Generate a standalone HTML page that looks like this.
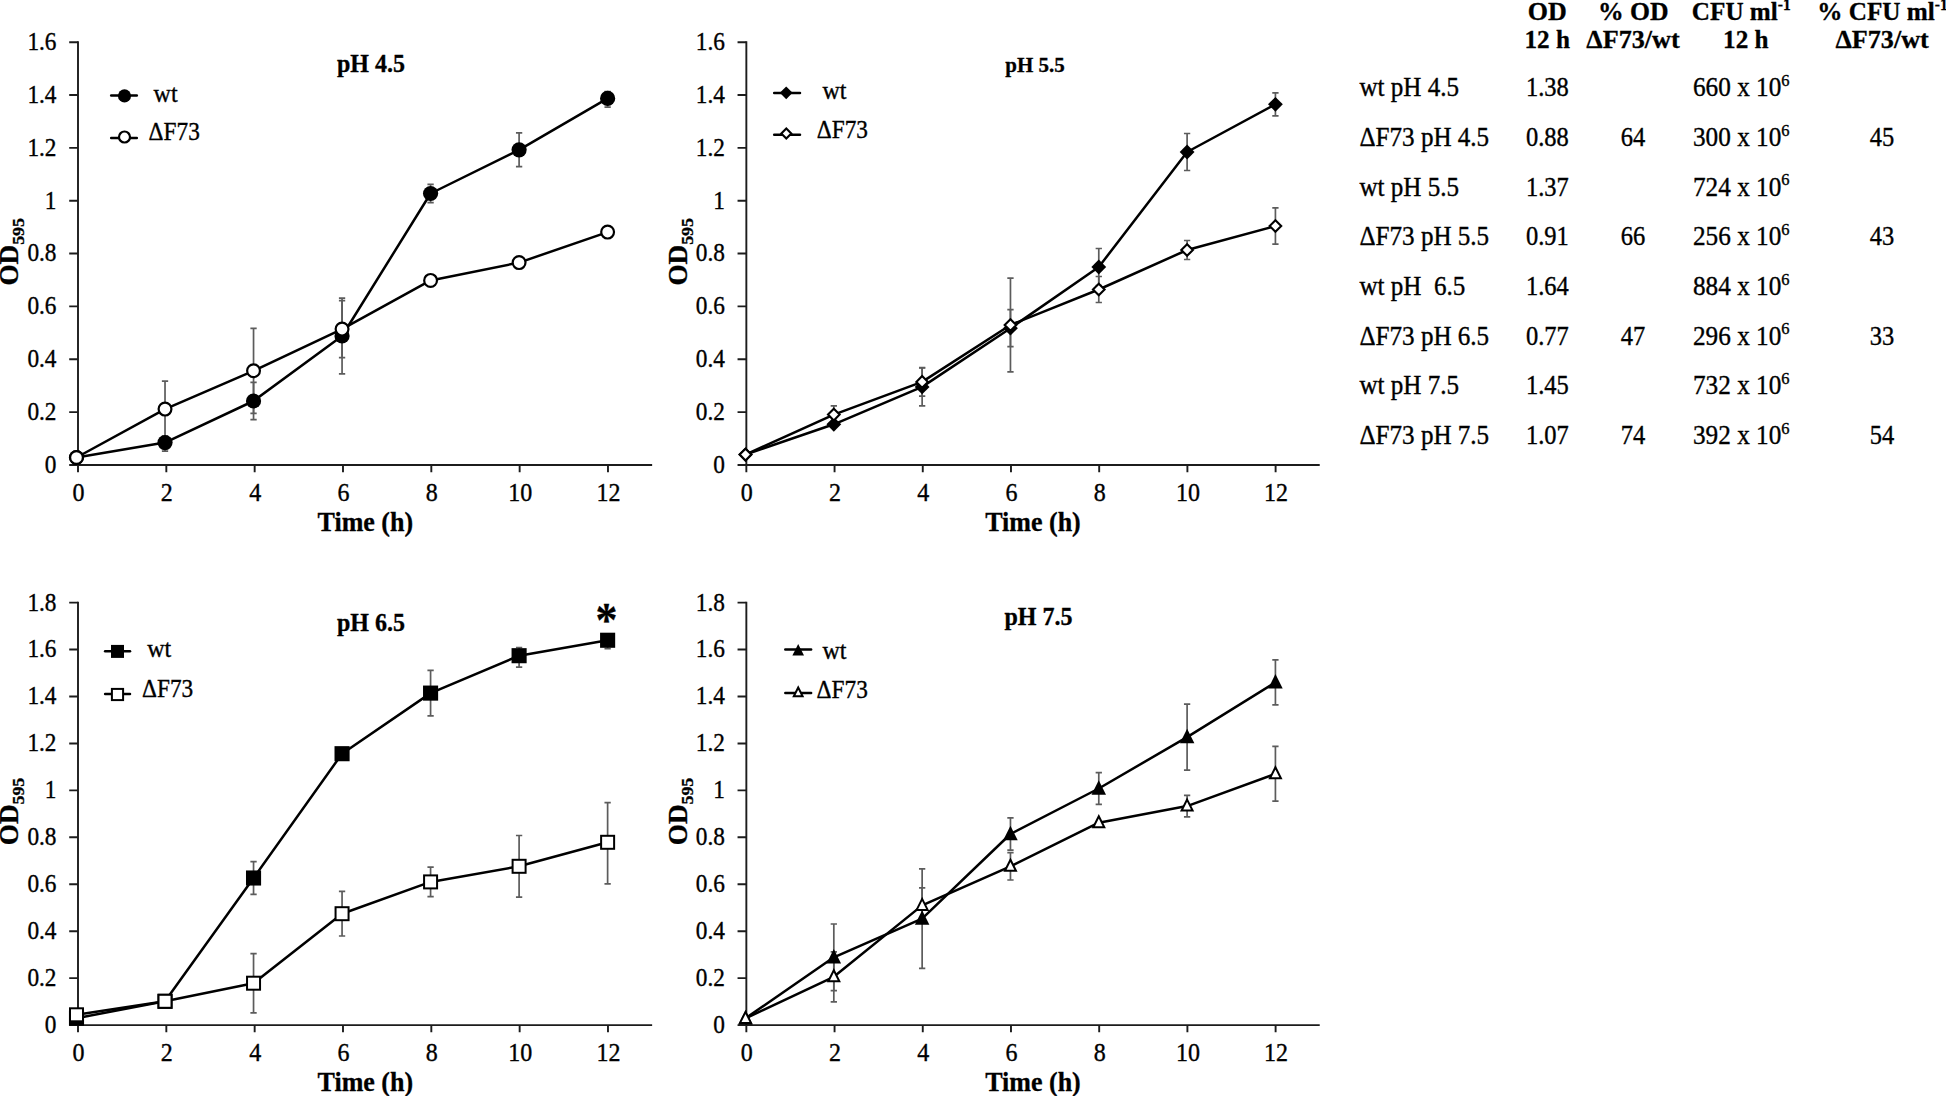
<!DOCTYPE html>
<html lang="en"><head><meta charset="utf-8"><title>Growth curves</title>
<style>html,body{margin:0;padding:0;background:#fff}svg{display:block}</style>
</head><body>
<svg width="1946" height="1096" viewBox="0 0 1946 1096">
<rect width="1946" height="1096" fill="#fff"/>
<g>
<path d="M78 41.25V464.95H652.14" stroke="#1c1c1c" stroke-width="1.9" fill="none"/>
<path d="M69.2 464.95H78M69.2 412.11H78M69.2 359.26H78M69.2 306.42H78M69.2 253.57H78M69.2 200.73H78M69.2 147.89H78M69.2 95.04H78M69.2 42.2H78M78 464.95V472.15M166.33 464.95V472.15M254.66 464.95V472.15M342.99 464.95V472.15M431.32 464.95V472.15M519.65 464.95V472.15M607.98 464.95V472.15" stroke="#1c1c1c" stroke-width="1.9" fill="none"/>
<text transform="translate(56.5 472.85) scale(0.97 1.05)" font-family='"Liberation Serif", "DejaVu Serif", serif' font-size="24" text-anchor="end" stroke="#000" stroke-width="0.35" >0</text>
<text transform="translate(56.5 420.01) scale(0.97 1.05)" font-family='"Liberation Serif", "DejaVu Serif", serif' font-size="24" text-anchor="end" stroke="#000" stroke-width="0.35" >0.2</text>
<text transform="translate(56.5 367.16) scale(0.97 1.05)" font-family='"Liberation Serif", "DejaVu Serif", serif' font-size="24" text-anchor="end" stroke="#000" stroke-width="0.35" >0.4</text>
<text transform="translate(56.5 314.32) scale(0.97 1.05)" font-family='"Liberation Serif", "DejaVu Serif", serif' font-size="24" text-anchor="end" stroke="#000" stroke-width="0.35" >0.6</text>
<text transform="translate(56.5 261.47) scale(0.97 1.05)" font-family='"Liberation Serif", "DejaVu Serif", serif' font-size="24" text-anchor="end" stroke="#000" stroke-width="0.35" >0.8</text>
<text transform="translate(56.5 208.63) scale(0.97 1.05)" font-family='"Liberation Serif", "DejaVu Serif", serif' font-size="24" text-anchor="end" stroke="#000" stroke-width="0.35" >1</text>
<text transform="translate(56.5 155.79) scale(0.97 1.05)" font-family='"Liberation Serif", "DejaVu Serif", serif' font-size="24" text-anchor="end" stroke="#000" stroke-width="0.35" >1.2</text>
<text transform="translate(56.5 102.94) scale(0.97 1.05)" font-family='"Liberation Serif", "DejaVu Serif", serif' font-size="24" text-anchor="end" stroke="#000" stroke-width="0.35" >1.4</text>
<text transform="translate(56.5 50.1) scale(0.97 1.05)" font-family='"Liberation Serif", "DejaVu Serif", serif' font-size="24" text-anchor="end" stroke="#000" stroke-width="0.35" >1.6</text>
<text transform="translate(78.5 500.85) scale(1 1.05)" font-family='"Liberation Serif", "DejaVu Serif", serif' font-size="24" text-anchor="middle" stroke="#000" stroke-width="0.35" >0</text>
<text transform="translate(166.83 500.85) scale(1 1.05)" font-family='"Liberation Serif", "DejaVu Serif", serif' font-size="24" text-anchor="middle" stroke="#000" stroke-width="0.35" >2</text>
<text transform="translate(255.16 500.85) scale(1 1.05)" font-family='"Liberation Serif", "DejaVu Serif", serif' font-size="24" text-anchor="middle" stroke="#000" stroke-width="0.35" >4</text>
<text transform="translate(343.49 500.85) scale(1 1.05)" font-family='"Liberation Serif", "DejaVu Serif", serif' font-size="24" text-anchor="middle" stroke="#000" stroke-width="0.35" >6</text>
<text transform="translate(431.82 500.85) scale(1 1.05)" font-family='"Liberation Serif", "DejaVu Serif", serif' font-size="24" text-anchor="middle" stroke="#000" stroke-width="0.35" >8</text>
<text transform="translate(520.15 500.85) scale(1 1.05)" font-family='"Liberation Serif", "DejaVu Serif", serif' font-size="24" text-anchor="middle" stroke="#000" stroke-width="0.35" >10</text>
<text transform="translate(608.48 500.85) scale(1 1.05)" font-family='"Liberation Serif", "DejaVu Serif", serif' font-size="24" text-anchor="middle" stroke="#000" stroke-width="0.35" >12</text>
<text transform="translate(365.3 530.9) scale(1 1.03)" font-family='"Liberation Serif", "DejaVu Serif", serif' font-size="26" text-anchor="middle" font-weight="bold" stroke="#000" stroke-width="0.3" >Time (h)</text>
<text transform="translate(18 251.9) rotate(-90) scale(1.045 1.03)" font-family='"Liberation Serif", "DejaVu Serif", serif' font-size="26" text-anchor="middle" font-weight="bold" stroke="#000" stroke-width="0.3" >OD<tspan font-size="17" dy="6">595</tspan></text>
<text transform="translate(371 72) scale(1 1.03)" font-family='"Liberation Serif", "DejaVu Serif", serif' font-size="24" text-anchor="middle" font-weight="bold" stroke="#000" stroke-width="0.3" >pH 4.5</text>

<path d="M165.02 436.1V451.2M161.87 436.1H168.17M161.87 451.2H168.17" stroke="#5c5c5c" stroke-width="1.7" fill="none"/>
<path d="M253.54 382.3V419.7M250.39 382.3H256.69M250.39 419.7H256.69" stroke="#5c5c5c" stroke-width="1.7" fill="none"/>
<path d="M342.06 298.2V373.8M338.91 298.2H345.21M338.91 373.8H345.21" stroke="#5c5c5c" stroke-width="1.7" fill="none"/>
<path d="M430.58 184.3V202.7M427.43 184.3H433.73M427.43 202.7H433.73" stroke="#5c5c5c" stroke-width="1.7" fill="none"/>
<path d="M519.1 132.9V166.7M515.95 132.9H522.25M515.95 166.7H522.25" stroke="#5c5c5c" stroke-width="1.7" fill="none"/>
<path d="M607.62 91.6V107.2M604.47 91.6H610.77M604.47 107.2H610.77" stroke="#5c5c5c" stroke-width="1.7" fill="none"/>

<path d="M165.02 381.2V437M161.87 381.2H168.17M161.87 437H168.17" stroke="#5c5c5c" stroke-width="1.7" fill="none"/>
<path d="M253.54 328.3V413.3M250.39 328.3H256.69M250.39 413.3H256.69" stroke="#5c5c5c" stroke-width="1.7" fill="none"/>
<path d="M342.06 300.6V357.6M338.91 300.6H345.21M338.91 357.6H345.21" stroke="#5c5c5c" stroke-width="1.7" fill="none"/>



<path d="M76.5 457.5L165.02 442.6L253.54 401L342.06 336L430.58 193.5L519.1 149.8L607.62 98.4" stroke="#000" stroke-width="2.5" fill="none" stroke-linejoin="round" stroke-linecap="round"/>
<circle cx="76.5" cy="457.5" r="7.6" fill="#000"/>
<circle cx="165.02" cy="442.6" r="7.6" fill="#000"/>
<circle cx="253.54" cy="401" r="7.6" fill="#000"/>
<circle cx="342.06" cy="336" r="7.6" fill="#000"/>
<circle cx="430.58" cy="193.5" r="7.6" fill="#000"/>
<circle cx="519.1" cy="149.8" r="7.6" fill="#000"/>
<circle cx="607.62" cy="98.4" r="7.6" fill="#000"/>
<path d="M76.5 457.5L165.02 409.1L253.54 370.8L342.06 329.1L430.58 280.4L519.1 262.6L607.62 232.1" stroke="#000" stroke-width="2.5" fill="none" stroke-linejoin="round" stroke-linecap="round"/>
<circle cx="76.5" cy="457.5" r="6.4" fill="#fff" stroke="#000" stroke-width="2.2"/>
<circle cx="165.02" cy="409.1" r="6.4" fill="#fff" stroke="#000" stroke-width="2.2"/>
<circle cx="253.54" cy="370.8" r="6.4" fill="#fff" stroke="#000" stroke-width="2.2"/>
<circle cx="342.06" cy="329.1" r="6.4" fill="#fff" stroke="#000" stroke-width="2.2"/>
<circle cx="430.58" cy="280.4" r="6.4" fill="#fff" stroke="#000" stroke-width="2.2"/>
<circle cx="519.1" cy="262.6" r="6.4" fill="#fff" stroke="#000" stroke-width="2.2"/>
<circle cx="607.62" cy="232.1" r="6.4" fill="#fff" stroke="#000" stroke-width="2.2"/>
<path d="M111.2 95.4H136.8" stroke="#000" stroke-width="2.5" stroke-linecap="round"/>
<circle cx="124.5" cy="95.9" r="6.54" fill="#000"/>
<text transform="translate(153.6 101.5) scale(1 1.04)" font-family='"Liberation Serif", "DejaVu Serif", serif' font-size="24" stroke="#000" stroke-width="0.35" >wt</text>
<path d="M111.2 138H136.8" stroke="#000" stroke-width="2.5" stroke-linecap="round"/>
<circle cx="124.5" cy="137" r="5.5" fill="#fff" stroke="#000" stroke-width="2.2"/>
<text transform="translate(148.6 140) scale(0.97 1.04)" font-family='"Liberation Serif", "DejaVu Serif", serif' font-size="24" stroke="#000" stroke-width="0.35" >ΔF73</text>
</g>
<g>
<path d="M746.35 41.25V464.95H1319.72" stroke="#1c1c1c" stroke-width="1.9" fill="none"/>
<path d="M737.55 464.95H746.35M737.55 412.11H746.35M737.55 359.26H746.35M737.55 306.42H746.35M737.55 253.57H746.35M737.55 200.73H746.35M737.55 147.89H746.35M737.55 95.04H746.35M737.55 42.2H746.35M746.35 464.95V472.15M834.56 464.95V472.15M922.77 464.95V472.15M1010.98 464.95V472.15M1099.19 464.95V472.15M1187.4 464.95V472.15M1275.61 464.95V472.15" stroke="#1c1c1c" stroke-width="1.9" fill="none"/>
<text transform="translate(724.85 472.85) scale(0.97 1.05)" font-family='"Liberation Serif", "DejaVu Serif", serif' font-size="24" text-anchor="end" stroke="#000" stroke-width="0.35" >0</text>
<text transform="translate(724.85 420.01) scale(0.97 1.05)" font-family='"Liberation Serif", "DejaVu Serif", serif' font-size="24" text-anchor="end" stroke="#000" stroke-width="0.35" >0.2</text>
<text transform="translate(724.85 367.16) scale(0.97 1.05)" font-family='"Liberation Serif", "DejaVu Serif", serif' font-size="24" text-anchor="end" stroke="#000" stroke-width="0.35" >0.4</text>
<text transform="translate(724.85 314.32) scale(0.97 1.05)" font-family='"Liberation Serif", "DejaVu Serif", serif' font-size="24" text-anchor="end" stroke="#000" stroke-width="0.35" >0.6</text>
<text transform="translate(724.85 261.47) scale(0.97 1.05)" font-family='"Liberation Serif", "DejaVu Serif", serif' font-size="24" text-anchor="end" stroke="#000" stroke-width="0.35" >0.8</text>
<text transform="translate(724.85 208.63) scale(0.97 1.05)" font-family='"Liberation Serif", "DejaVu Serif", serif' font-size="24" text-anchor="end" stroke="#000" stroke-width="0.35" >1</text>
<text transform="translate(724.85 155.79) scale(0.97 1.05)" font-family='"Liberation Serif", "DejaVu Serif", serif' font-size="24" text-anchor="end" stroke="#000" stroke-width="0.35" >1.2</text>
<text transform="translate(724.85 102.94) scale(0.97 1.05)" font-family='"Liberation Serif", "DejaVu Serif", serif' font-size="24" text-anchor="end" stroke="#000" stroke-width="0.35" >1.4</text>
<text transform="translate(724.85 50.1) scale(0.97 1.05)" font-family='"Liberation Serif", "DejaVu Serif", serif' font-size="24" text-anchor="end" stroke="#000" stroke-width="0.35" >1.6</text>
<text transform="translate(746.85 500.85) scale(1 1.05)" font-family='"Liberation Serif", "DejaVu Serif", serif' font-size="24" text-anchor="middle" stroke="#000" stroke-width="0.35" >0</text>
<text transform="translate(835.06 500.85) scale(1 1.05)" font-family='"Liberation Serif", "DejaVu Serif", serif' font-size="24" text-anchor="middle" stroke="#000" stroke-width="0.35" >2</text>
<text transform="translate(923.27 500.85) scale(1 1.05)" font-family='"Liberation Serif", "DejaVu Serif", serif' font-size="24" text-anchor="middle" stroke="#000" stroke-width="0.35" >4</text>
<text transform="translate(1011.48 500.85) scale(1 1.05)" font-family='"Liberation Serif", "DejaVu Serif", serif' font-size="24" text-anchor="middle" stroke="#000" stroke-width="0.35" >6</text>
<text transform="translate(1099.69 500.85) scale(1 1.05)" font-family='"Liberation Serif", "DejaVu Serif", serif' font-size="24" text-anchor="middle" stroke="#000" stroke-width="0.35" >8</text>
<text transform="translate(1187.9 500.85) scale(1 1.05)" font-family='"Liberation Serif", "DejaVu Serif", serif' font-size="24" text-anchor="middle" stroke="#000" stroke-width="0.35" >10</text>
<text transform="translate(1276.11 500.85) scale(1 1.05)" font-family='"Liberation Serif", "DejaVu Serif", serif' font-size="24" text-anchor="middle" stroke="#000" stroke-width="0.35" >12</text>
<text transform="translate(1033 530.9) scale(1 1.03)" font-family='"Liberation Serif", "DejaVu Serif", serif' font-size="26" text-anchor="middle" font-weight="bold" stroke="#000" stroke-width="0.3" >Time (h)</text>
<text transform="translate(686.5 251.9) rotate(-90) scale(1.045 1.03)" font-family='"Liberation Serif", "DejaVu Serif", serif' font-size="26" text-anchor="middle" font-weight="bold" stroke="#000" stroke-width="0.3" >OD<tspan font-size="17" dy="6">595</tspan></text>
<text transform="translate(1035 72) scale(1 1.03)" font-family='"Liberation Serif", "DejaVu Serif", serif' font-size="21" text-anchor="middle" font-weight="bold" stroke="#000" stroke-width="0.3" >pH 5.5</text>


<path d="M922.14 368V405.8M918.99 368H925.29M918.99 405.8H925.29" stroke="#5c5c5c" stroke-width="1.7" fill="none"/>
<path d="M1010.46 309.7V346.7M1007.31 309.7H1013.61M1007.31 346.7H1013.61" stroke="#5c5c5c" stroke-width="1.7" fill="none"/>
<path d="M1098.78 248.5V285.5M1095.63 248.5H1101.93M1095.63 285.5H1101.93" stroke="#5c5c5c" stroke-width="1.7" fill="none"/>
<path d="M1187.1 133.5V170.5M1183.95 133.5H1190.25M1183.95 170.5H1190.25" stroke="#5c5c5c" stroke-width="1.7" fill="none"/>
<path d="M1275.42 92.8V115.8M1272.27 92.8H1278.57M1272.27 115.8H1278.57" stroke="#5c5c5c" stroke-width="1.7" fill="none"/>

<path d="M833.82 405.8V423.4M830.67 405.8H836.97M830.67 423.4H836.97" stroke="#5c5c5c" stroke-width="1.7" fill="none"/>
<path d="M922.14 367.7V396.1M918.99 367.7H925.29M918.99 396.1H925.29" stroke="#5c5c5c" stroke-width="1.7" fill="none"/>
<path d="M1010.46 278.2V371.8M1007.31 278.2H1013.61M1007.31 371.8H1013.61" stroke="#5c5c5c" stroke-width="1.7" fill="none"/>
<path d="M1098.78 276.5V302.5M1095.63 276.5H1101.93M1095.63 302.5H1101.93" stroke="#5c5c5c" stroke-width="1.7" fill="none"/>
<path d="M1187.1 240.5V259.5M1183.95 240.5H1190.25M1183.95 259.5H1190.25" stroke="#5c5c5c" stroke-width="1.7" fill="none"/>
<path d="M1275.42 207.8V244.2M1272.27 207.8H1278.57M1272.27 244.2H1278.57" stroke="#5c5c5c" stroke-width="1.7" fill="none"/>
<path d="M745.5 454.6L833.82 424.3L922.14 386.9L1010.46 328.2L1098.78 267L1187.1 152L1275.42 104.3" stroke="#000" stroke-width="2.5" fill="none" stroke-linejoin="round" stroke-linecap="round"/>
<polygon points="745.5,447.2 752.9,454.6 745.5,462 738.1,454.6" fill="#000"/>
<polygon points="833.82,416.9 841.22,424.3 833.82,431.7 826.42,424.3" fill="#000"/>
<polygon points="922.14,379.5 929.54,386.9 922.14,394.3 914.74,386.9" fill="#000"/>
<polygon points="1010.46,320.8 1017.86,328.2 1010.46,335.6 1003.06,328.2" fill="#000"/>
<polygon points="1098.78,259.6 1106.18,267 1098.78,274.4 1091.38,267" fill="#000"/>
<polygon points="1187.1,144.6 1194.5,152 1187.1,159.4 1179.7,152" fill="#000"/>
<polygon points="1275.42,96.9 1282.82,104.3 1275.42,111.7 1268.02,104.3" fill="#000"/>
<path d="M745.5 454.6L833.82 414.6L922.14 381.9L1010.46 325L1098.78 289.5L1187.1 250L1275.42 226" stroke="#000" stroke-width="2.5" fill="none" stroke-linejoin="round" stroke-linecap="round"/>
<polygon points="745.5,448.8 751.3,454.6 745.5,460.4 739.7,454.6" fill="#fff" stroke="#000" stroke-width="2.1"/>
<polygon points="833.82,408.8 839.62,414.6 833.82,420.4 828.02,414.6" fill="#fff" stroke="#000" stroke-width="2.1"/>
<polygon points="922.14,376.1 927.94,381.9 922.14,387.7 916.34,381.9" fill="#fff" stroke="#000" stroke-width="2.1"/>
<polygon points="1010.46,319.2 1016.26,325 1010.46,330.8 1004.66,325" fill="#fff" stroke="#000" stroke-width="2.1"/>
<polygon points="1098.78,283.7 1104.58,289.5 1098.78,295.3 1092.98,289.5" fill="#fff" stroke="#000" stroke-width="2.1"/>
<polygon points="1187.1,244.2 1192.9,250 1187.1,255.8 1181.3,250" fill="#fff" stroke="#000" stroke-width="2.1"/>
<polygon points="1275.42,220.2 1281.22,226 1275.42,231.8 1269.62,226" fill="#fff" stroke="#000" stroke-width="2.1"/>
<path d="M774.2 93H800" stroke="#000" stroke-width="2.5" stroke-linecap="round"/>
<polygon points="786.2,86.44 792.56,92.8 786.2,99.16 779.84,92.8" fill="#000"/>
<text transform="translate(822.4 98.8) scale(1 1.04)" font-family='"Liberation Serif", "DejaVu Serif", serif' font-size="24" stroke="#000" stroke-width="0.35" >wt</text>
<path d="M774.2 134.8H800" stroke="#000" stroke-width="2.5" stroke-linecap="round"/>
<polygon points="786.3,128.56 791.29,133.55 786.3,138.54 781.31,133.55" fill="#fff" stroke="#000" stroke-width="2.1"/>
<text transform="translate(816.8 138.1) scale(0.97 1.04)" font-family='"Liberation Serif", "DejaVu Serif", serif' font-size="24" stroke="#000" stroke-width="0.35" >ΔF73</text>
</g>
<g>
<path d="M78 601.65V1025.1H652.14" stroke="#1c1c1c" stroke-width="1.9" fill="none"/>
<path d="M69.2 1025.1H78M69.2 978.16H78M69.2 931.21H78M69.2 884.27H78M69.2 837.32H78M69.2 790.38H78M69.2 743.43H78M69.2 696.49H78M69.2 649.54H78M69.2 602.6H78M78 1025.1V1032.3M166.33 1025.1V1032.3M254.66 1025.1V1032.3M342.99 1025.1V1032.3M431.32 1025.1V1032.3M519.65 1025.1V1032.3M607.98 1025.1V1032.3" stroke="#1c1c1c" stroke-width="1.9" fill="none"/>
<text transform="translate(56.5 1033) scale(0.97 1.05)" font-family='"Liberation Serif", "DejaVu Serif", serif' font-size="24" text-anchor="end" stroke="#000" stroke-width="0.35" >0</text>
<text transform="translate(56.5 986.06) scale(0.97 1.05)" font-family='"Liberation Serif", "DejaVu Serif", serif' font-size="24" text-anchor="end" stroke="#000" stroke-width="0.35" >0.2</text>
<text transform="translate(56.5 939.11) scale(0.97 1.05)" font-family='"Liberation Serif", "DejaVu Serif", serif' font-size="24" text-anchor="end" stroke="#000" stroke-width="0.35" >0.4</text>
<text transform="translate(56.5 892.17) scale(0.97 1.05)" font-family='"Liberation Serif", "DejaVu Serif", serif' font-size="24" text-anchor="end" stroke="#000" stroke-width="0.35" >0.6</text>
<text transform="translate(56.5 845.22) scale(0.97 1.05)" font-family='"Liberation Serif", "DejaVu Serif", serif' font-size="24" text-anchor="end" stroke="#000" stroke-width="0.35" >0.8</text>
<text transform="translate(56.5 798.28) scale(0.97 1.05)" font-family='"Liberation Serif", "DejaVu Serif", serif' font-size="24" text-anchor="end" stroke="#000" stroke-width="0.35" >1</text>
<text transform="translate(56.5 751.33) scale(0.97 1.05)" font-family='"Liberation Serif", "DejaVu Serif", serif' font-size="24" text-anchor="end" stroke="#000" stroke-width="0.35" >1.2</text>
<text transform="translate(56.5 704.39) scale(0.97 1.05)" font-family='"Liberation Serif", "DejaVu Serif", serif' font-size="24" text-anchor="end" stroke="#000" stroke-width="0.35" >1.4</text>
<text transform="translate(56.5 657.44) scale(0.97 1.05)" font-family='"Liberation Serif", "DejaVu Serif", serif' font-size="24" text-anchor="end" stroke="#000" stroke-width="0.35" >1.6</text>
<text transform="translate(56.5 610.5) scale(0.97 1.05)" font-family='"Liberation Serif", "DejaVu Serif", serif' font-size="24" text-anchor="end" stroke="#000" stroke-width="0.35" >1.8</text>
<text transform="translate(78.5 1061) scale(1 1.05)" font-family='"Liberation Serif", "DejaVu Serif", serif' font-size="24" text-anchor="middle" stroke="#000" stroke-width="0.35" >0</text>
<text transform="translate(166.83 1061) scale(1 1.05)" font-family='"Liberation Serif", "DejaVu Serif", serif' font-size="24" text-anchor="middle" stroke="#000" stroke-width="0.35" >2</text>
<text transform="translate(255.16 1061) scale(1 1.05)" font-family='"Liberation Serif", "DejaVu Serif", serif' font-size="24" text-anchor="middle" stroke="#000" stroke-width="0.35" >4</text>
<text transform="translate(343.49 1061) scale(1 1.05)" font-family='"Liberation Serif", "DejaVu Serif", serif' font-size="24" text-anchor="middle" stroke="#000" stroke-width="0.35" >6</text>
<text transform="translate(431.82 1061) scale(1 1.05)" font-family='"Liberation Serif", "DejaVu Serif", serif' font-size="24" text-anchor="middle" stroke="#000" stroke-width="0.35" >8</text>
<text transform="translate(520.15 1061) scale(1 1.05)" font-family='"Liberation Serif", "DejaVu Serif", serif' font-size="24" text-anchor="middle" stroke="#000" stroke-width="0.35" >10</text>
<text transform="translate(608.48 1061) scale(1 1.05)" font-family='"Liberation Serif", "DejaVu Serif", serif' font-size="24" text-anchor="middle" stroke="#000" stroke-width="0.35" >12</text>
<text transform="translate(365.3 1090.9) scale(1 1.03)" font-family='"Liberation Serif", "DejaVu Serif", serif' font-size="26" text-anchor="middle" font-weight="bold" stroke="#000" stroke-width="0.3" >Time (h)</text>
<text transform="translate(18 811.5) rotate(-90) scale(1.045 1.03)" font-family='"Liberation Serif", "DejaVu Serif", serif' font-size="26" text-anchor="middle" font-weight="bold" stroke="#000" stroke-width="0.3" >OD<tspan font-size="17" dy="6">595</tspan></text>
<text transform="translate(371 630.5) scale(1 1.03)" font-family='"Liberation Serif", "DejaVu Serif", serif' font-size="24" text-anchor="middle" font-weight="bold" stroke="#000" stroke-width="0.3" >pH 6.5</text>


<path d="M253.54 861.6V894.4M250.39 861.6H256.69M250.39 894.4H256.69" stroke="#5c5c5c" stroke-width="1.7" fill="none"/>

<path d="M430.58 670.4V715.8M427.43 670.4H433.73M427.43 715.8H433.73" stroke="#5c5c5c" stroke-width="1.7" fill="none"/>
<path d="M519.1 647.5V667.1M515.95 647.5H522.25M515.95 667.1H522.25" stroke="#5c5c5c" stroke-width="1.7" fill="none"/>
<path d="M607.62 633.75V648.65M604.47 633.75H610.77M604.47 648.65H610.77" stroke="#5c5c5c" stroke-width="1.7" fill="none"/>


<path d="M253.54 953.6V1012.8M250.39 953.6H256.69M250.39 1012.8H256.69" stroke="#5c5c5c" stroke-width="1.7" fill="none"/>
<path d="M342.06 891.4V936M338.91 891.4H345.21M338.91 936H345.21" stroke="#5c5c5c" stroke-width="1.7" fill="none"/>
<path d="M430.58 867.2V896.6M427.43 867.2H433.73M427.43 896.6H433.73" stroke="#5c5c5c" stroke-width="1.7" fill="none"/>
<path d="M519.1 835.5V897.1M515.95 835.5H522.25M515.95 897.1H522.25" stroke="#5c5c5c" stroke-width="1.7" fill="none"/>
<path d="M607.62 802.6V883.9M604.47 802.6H610.77M604.47 883.9H610.77" stroke="#5c5c5c" stroke-width="1.7" fill="none"/>
<path d="M76.5 1018.2L165.02 1001.3L253.54 878L342.06 753.7L430.58 693.1L519.1 655.7L607.62 640.25" stroke="#000" stroke-width="2.5" fill="none" stroke-linejoin="round" stroke-linecap="round"/>
<rect x="68.95" y="1010.65" width="15.1" height="15.1" fill="#000"/>
<rect x="157.47" y="993.75" width="15.1" height="15.1" fill="#000"/>
<rect x="245.99" y="870.45" width="15.1" height="15.1" fill="#000"/>
<rect x="334.51" y="746.15" width="15.1" height="15.1" fill="#000"/>
<rect x="423.03" y="685.55" width="15.1" height="15.1" fill="#000"/>
<rect x="511.55" y="648.15" width="15.1" height="15.1" fill="#000"/>
<rect x="600.07" y="632.7" width="15.1" height="15.1" fill="#000"/>
<path d="M76.5 1014.8L165.02 1001.3L253.54 983.2L342.06 913.7L430.58 881.9L519.1 866.3L607.62 842.3" stroke="#000" stroke-width="2.5" fill="none" stroke-linejoin="round" stroke-linecap="round"/>
<rect x="70" y="1008.3" width="13" height="13" fill="#fff" stroke="#000" stroke-width="2"/>
<rect x="158.52" y="994.8" width="13" height="13" fill="#fff" stroke="#000" stroke-width="2"/>
<rect x="247.04" y="976.7" width="13" height="13" fill="#fff" stroke="#000" stroke-width="2"/>
<rect x="335.56" y="907.2" width="13" height="13" fill="#fff" stroke="#000" stroke-width="2"/>
<rect x="424.08" y="875.4" width="13" height="13" fill="#fff" stroke="#000" stroke-width="2"/>
<rect x="512.6" y="859.8" width="13" height="13" fill="#fff" stroke="#000" stroke-width="2"/>
<rect x="601.12" y="835.8" width="13" height="13" fill="#fff" stroke="#000" stroke-width="2"/>
<path d="M105.1 651.3H130" stroke="#000" stroke-width="2.5" stroke-linecap="round"/>
<rect x="111.01" y="644.91" width="12.99" height="12.99" fill="#000"/>
<text transform="translate(147.2 657.3) scale(1 1.04)" font-family='"Liberation Serif", "DejaVu Serif", serif' font-size="24" stroke="#000" stroke-width="0.35" >wt</text>
<path d="M105.1 694H130" stroke="#000" stroke-width="2.5" stroke-linecap="round"/>
<rect x="111.91" y="688.91" width="11.18" height="11.18" fill="#fff" stroke="#000" stroke-width="2"/>
<text transform="translate(142 696.9) scale(0.97 1.04)" font-family='"Liberation Serif", "DejaVu Serif", serif' font-size="24" stroke="#000" stroke-width="0.35" >ΔF73</text>
<text transform="translate(606.5 636.4) scale(1 1.12)" font-family='"Liberation Serif", "DejaVu Serif", serif' font-size="44" text-anchor="middle" font-weight="bold" stroke="#000" stroke-width="0.3" >*</text>
</g>
<g>
<path d="M746.35 601.65V1025.1H1319.72" stroke="#1c1c1c" stroke-width="1.9" fill="none"/>
<path d="M737.55 1025.1H746.35M737.55 978.16H746.35M737.55 931.21H746.35M737.55 884.27H746.35M737.55 837.32H746.35M737.55 790.38H746.35M737.55 743.43H746.35M737.55 696.49H746.35M737.55 649.54H746.35M737.55 602.6H746.35M746.35 1025.1V1032.3M834.56 1025.1V1032.3M922.77 1025.1V1032.3M1010.98 1025.1V1032.3M1099.19 1025.1V1032.3M1187.4 1025.1V1032.3M1275.61 1025.1V1032.3" stroke="#1c1c1c" stroke-width="1.9" fill="none"/>
<text transform="translate(724.85 1033) scale(0.97 1.05)" font-family='"Liberation Serif", "DejaVu Serif", serif' font-size="24" text-anchor="end" stroke="#000" stroke-width="0.35" >0</text>
<text transform="translate(724.85 986.06) scale(0.97 1.05)" font-family='"Liberation Serif", "DejaVu Serif", serif' font-size="24" text-anchor="end" stroke="#000" stroke-width="0.35" >0.2</text>
<text transform="translate(724.85 939.11) scale(0.97 1.05)" font-family='"Liberation Serif", "DejaVu Serif", serif' font-size="24" text-anchor="end" stroke="#000" stroke-width="0.35" >0.4</text>
<text transform="translate(724.85 892.17) scale(0.97 1.05)" font-family='"Liberation Serif", "DejaVu Serif", serif' font-size="24" text-anchor="end" stroke="#000" stroke-width="0.35" >0.6</text>
<text transform="translate(724.85 845.22) scale(0.97 1.05)" font-family='"Liberation Serif", "DejaVu Serif", serif' font-size="24" text-anchor="end" stroke="#000" stroke-width="0.35" >0.8</text>
<text transform="translate(724.85 798.28) scale(0.97 1.05)" font-family='"Liberation Serif", "DejaVu Serif", serif' font-size="24" text-anchor="end" stroke="#000" stroke-width="0.35" >1</text>
<text transform="translate(724.85 751.33) scale(0.97 1.05)" font-family='"Liberation Serif", "DejaVu Serif", serif' font-size="24" text-anchor="end" stroke="#000" stroke-width="0.35" >1.2</text>
<text transform="translate(724.85 704.39) scale(0.97 1.05)" font-family='"Liberation Serif", "DejaVu Serif", serif' font-size="24" text-anchor="end" stroke="#000" stroke-width="0.35" >1.4</text>
<text transform="translate(724.85 657.44) scale(0.97 1.05)" font-family='"Liberation Serif", "DejaVu Serif", serif' font-size="24" text-anchor="end" stroke="#000" stroke-width="0.35" >1.6</text>
<text transform="translate(724.85 610.5) scale(0.97 1.05)" font-family='"Liberation Serif", "DejaVu Serif", serif' font-size="24" text-anchor="end" stroke="#000" stroke-width="0.35" >1.8</text>
<text transform="translate(746.85 1061) scale(1 1.05)" font-family='"Liberation Serif", "DejaVu Serif", serif' font-size="24" text-anchor="middle" stroke="#000" stroke-width="0.35" >0</text>
<text transform="translate(835.06 1061) scale(1 1.05)" font-family='"Liberation Serif", "DejaVu Serif", serif' font-size="24" text-anchor="middle" stroke="#000" stroke-width="0.35" >2</text>
<text transform="translate(923.27 1061) scale(1 1.05)" font-family='"Liberation Serif", "DejaVu Serif", serif' font-size="24" text-anchor="middle" stroke="#000" stroke-width="0.35" >4</text>
<text transform="translate(1011.48 1061) scale(1 1.05)" font-family='"Liberation Serif", "DejaVu Serif", serif' font-size="24" text-anchor="middle" stroke="#000" stroke-width="0.35" >6</text>
<text transform="translate(1099.69 1061) scale(1 1.05)" font-family='"Liberation Serif", "DejaVu Serif", serif' font-size="24" text-anchor="middle" stroke="#000" stroke-width="0.35" >8</text>
<text transform="translate(1187.9 1061) scale(1 1.05)" font-family='"Liberation Serif", "DejaVu Serif", serif' font-size="24" text-anchor="middle" stroke="#000" stroke-width="0.35" >10</text>
<text transform="translate(1276.11 1061) scale(1 1.05)" font-family='"Liberation Serif", "DejaVu Serif", serif' font-size="24" text-anchor="middle" stroke="#000" stroke-width="0.35" >12</text>
<text transform="translate(1033 1090.9) scale(1 1.03)" font-family='"Liberation Serif", "DejaVu Serif", serif' font-size="26" text-anchor="middle" font-weight="bold" stroke="#000" stroke-width="0.3" >Time (h)</text>
<text transform="translate(686.5 811.5) rotate(-90) scale(1.045 1.03)" font-family='"Liberation Serif", "DejaVu Serif", serif' font-size="26" text-anchor="middle" font-weight="bold" stroke="#000" stroke-width="0.3" >OD<tspan font-size="17" dy="6">595</tspan></text>
<text transform="translate(1038.5 625) scale(1 1.03)" font-family='"Liberation Serif", "DejaVu Serif", serif' font-size="24" text-anchor="middle" font-weight="bold" stroke="#000" stroke-width="0.3" >pH 7.5</text>

<path d="M833.82 924V990.6M830.67 924H836.97M830.67 990.6H836.97" stroke="#5c5c5c" stroke-width="1.7" fill="none"/>
<path d="M922.14 868.9V968.3M918.99 868.9H925.29M918.99 968.3H925.29" stroke="#5c5c5c" stroke-width="1.7" fill="none"/>
<path d="M1010.46 817.8V850.2M1007.31 817.8H1013.61M1007.31 850.2H1013.61" stroke="#5c5c5c" stroke-width="1.7" fill="none"/>
<path d="M1098.78 772.6V804.4M1095.63 772.6H1101.93M1095.63 804.4H1101.93" stroke="#5c5c5c" stroke-width="1.7" fill="none"/>
<path d="M1187.1 704.1V770.1M1183.95 704.1H1190.25M1183.95 770.1H1190.25" stroke="#5c5c5c" stroke-width="1.7" fill="none"/>
<path d="M1275.42 659.8V704.8M1272.27 659.8H1278.57M1272.27 704.8H1278.57" stroke="#5c5c5c" stroke-width="1.7" fill="none"/>

<path d="M833.82 951.8V1001.8M830.67 951.8H836.97M830.67 1001.8H836.97" stroke="#5c5c5c" stroke-width="1.7" fill="none"/>
<path d="M922.14 887.8V923M918.99 887.8H925.29M918.99 923H925.29" stroke="#5c5c5c" stroke-width="1.7" fill="none"/>
<path d="M1010.46 852.6V880M1007.31 852.6H1013.61M1007.31 880H1013.61" stroke="#5c5c5c" stroke-width="1.7" fill="none"/>

<path d="M1187.1 795.3V816.9M1183.95 795.3H1190.25M1183.95 816.9H1190.25" stroke="#5c5c5c" stroke-width="1.7" fill="none"/>
<path d="M1275.42 746.4V801.2M1272.27 746.4H1278.57M1272.27 801.2H1278.57" stroke="#5c5c5c" stroke-width="1.7" fill="none"/>
<path d="M745.5 1018.4L833.82 957.3L922.14 918.6L1010.46 834L1098.78 788.5L1187.1 737.1L1275.42 682.3" stroke="#000" stroke-width="2.5" fill="none" stroke-linejoin="round" stroke-linecap="round"/>
<polygon points="745.5,1010.15 752.75,1024.65 738.25,1024.65" fill="#000"/>
<polygon points="833.82,949.05 841.07,963.55 826.57,963.55" fill="#000"/>
<polygon points="922.14,910.35 929.39,924.85 914.89,924.85" fill="#000"/>
<polygon points="1010.46,825.75 1017.71,840.25 1003.21,840.25" fill="#000"/>
<polygon points="1098.78,780.25 1106.03,794.75 1091.53,794.75" fill="#000"/>
<polygon points="1187.1,728.85 1194.35,743.35 1179.85,743.35" fill="#000"/>
<polygon points="1275.42,674.05 1282.67,688.55 1268.17,688.55" fill="#000"/>
<path d="M745.5 1018.4L833.82 976.8L922.14 905.4L1010.46 866.3L1098.78 822.7L1187.1 806.1L1275.42 773.8" stroke="#000" stroke-width="2.5" fill="none" stroke-linejoin="round" stroke-linecap="round"/>
<polygon points="745.5,1011.9 751,1022.9 740,1022.9" fill="#fff" stroke="#000" stroke-width="2"/>
<polygon points="833.82,970.3 839.32,981.3 828.32,981.3" fill="#fff" stroke="#000" stroke-width="2"/>
<polygon points="922.14,898.9 927.64,909.9 916.64,909.9" fill="#fff" stroke="#000" stroke-width="2"/>
<polygon points="1010.46,859.8 1015.96,870.8 1004.96,870.8" fill="#fff" stroke="#000" stroke-width="2"/>
<polygon points="1098.78,816.2 1104.28,827.2 1093.28,827.2" fill="#fff" stroke="#000" stroke-width="2"/>
<polygon points="1187.1,799.6 1192.6,810.6 1181.6,810.6" fill="#fff" stroke="#000" stroke-width="2"/>
<polygon points="1275.42,767.3 1280.92,778.3 1269.92,778.3" fill="#fff" stroke="#000" stroke-width="2"/>
<path d="M785.3 649.5H811.1" stroke="#000" stroke-width="2.5" stroke-linecap="round"/>
<polygon points="798.2,643.9 804,655.5 792.4,655.5" fill="#000"/>
<text transform="translate(822.5 659) scale(1 1.04)" font-family='"Liberation Serif", "DejaVu Serif", serif' font-size="24" stroke="#000" stroke-width="0.35" >wt</text>
<path d="M785.3 692.9H811.1" stroke="#000" stroke-width="2.5" stroke-linecap="round"/>
<polygon points="798.2,687.5 802.6,696.3 793.8,696.3" fill="#fff" stroke="#000" stroke-width="2"/>
<text transform="translate(816.6 698.1) scale(0.97 1.04)" font-family='"Liberation Serif", "DejaVu Serif", serif' font-size="24" stroke="#000" stroke-width="0.35" >ΔF73</text>
</g>
<g fill="#000">
<text transform="translate(1547.2 19.7) scale(1.0 1.0)" font-family='"Liberation Serif", "DejaVu Serif", serif' font-size="26" text-anchor="middle" font-weight="bold" stroke="#000" stroke-width="0.3" >OD</text>
<text transform="translate(1547.2 48.4) scale(0.97 1.0)" font-family='"Liberation Serif", "DejaVu Serif", serif' font-size="26" text-anchor="middle" font-weight="bold" stroke="#000" stroke-width="0.3" >12 h</text>
<text transform="translate(1633.2 19.7) scale(0.988 1.0)" font-family='"Liberation Serif", "DejaVu Serif", serif' font-size="26" text-anchor="middle" font-weight="bold" stroke="#000" stroke-width="0.3" >% OD</text>
<text transform="translate(1633 48.4) scale(1.006 1.0)" font-family='"Liberation Serif", "DejaVu Serif", serif' font-size="26" text-anchor="middle" font-weight="bold" stroke="#000" stroke-width="0.3" >ΔF73/wt</text>
<text transform="translate(1741.3 19.7) scale(0.968 1.0)" font-family='"Liberation Serif", "DejaVu Serif", serif' font-size="26" text-anchor="middle" font-weight="bold" stroke="#000" stroke-width="0.3" >CFU ml<tspan font-size="16" dy="-9.5">-1</tspan></text>
<text transform="translate(1745.8 48.4) scale(0.97 1.0)" font-family='"Liberation Serif", "DejaVu Serif", serif' font-size="26" text-anchor="middle" font-weight="bold" stroke="#000" stroke-width="0.3" >12 h</text>
<text transform="translate(1882.5 19.7) scale(0.97 1.0)" font-family='"Liberation Serif", "DejaVu Serif", serif' font-size="26" text-anchor="middle" font-weight="bold" stroke="#000" stroke-width="0.3" >% CFU ml<tspan font-size="16" dy="-9.5">-1</tspan></text>
<text transform="translate(1882.1 48.4) scale(1.006 1.0)" font-family='"Liberation Serif", "DejaVu Serif", serif' font-size="26" text-anchor="middle" font-weight="bold" stroke="#000" stroke-width="0.3" >ΔF73/wt</text>
<text transform="translate(1359.5 96.4) scale(1.024 1.085)" font-family='"Liberation Serif", "DejaVu Serif", serif' font-size="24.5" stroke="#000" stroke-width="0.35" xml:space="preserve">wt pH 4.5</text>
<text transform="translate(1526 96.4) scale(1 1.085)" font-family='"Liberation Serif", "DejaVu Serif", serif' font-size="24.5" stroke="#000" stroke-width="0.35" >1.38</text>
<text transform="translate(1693 96.4) scale(1.03 1.085)" font-family='"Liberation Serif", "DejaVu Serif", serif' font-size="24.5" stroke="#000" stroke-width="0.35" >660 x 10<tspan font-size="16" dy="-9.5">6</tspan></text>
<text transform="translate(1359.5 146.05) scale(1.024 1.085)" font-family='"Liberation Serif", "DejaVu Serif", serif' font-size="24.5" stroke="#000" stroke-width="0.35" xml:space="preserve">ΔF73 pH 4.5</text>
<text transform="translate(1526 146.05) scale(1 1.085)" font-family='"Liberation Serif", "DejaVu Serif", serif' font-size="24.5" stroke="#000" stroke-width="0.35" >0.88</text>
<text transform="translate(1633 146.05) scale(1 1.085)" font-family='"Liberation Serif", "DejaVu Serif", serif' font-size="24.5" text-anchor="middle" stroke="#000" stroke-width="0.35" >64</text>
<text transform="translate(1693 146.05) scale(1.03 1.085)" font-family='"Liberation Serif", "DejaVu Serif", serif' font-size="24.5" stroke="#000" stroke-width="0.35" >300 x 10<tspan font-size="16" dy="-9.5">6</tspan></text>
<text transform="translate(1882 146.05) scale(1 1.085)" font-family='"Liberation Serif", "DejaVu Serif", serif' font-size="24.5" text-anchor="middle" stroke="#000" stroke-width="0.35" >45</text>
<text transform="translate(1359.5 195.7) scale(1.024 1.085)" font-family='"Liberation Serif", "DejaVu Serif", serif' font-size="24.5" stroke="#000" stroke-width="0.35" xml:space="preserve">wt pH 5.5</text>
<text transform="translate(1526 195.7) scale(1 1.085)" font-family='"Liberation Serif", "DejaVu Serif", serif' font-size="24.5" stroke="#000" stroke-width="0.35" >1.37</text>
<text transform="translate(1693 195.7) scale(1.03 1.085)" font-family='"Liberation Serif", "DejaVu Serif", serif' font-size="24.5" stroke="#000" stroke-width="0.35" >724 x 10<tspan font-size="16" dy="-9.5">6</tspan></text>
<text transform="translate(1359.5 245.35) scale(1.024 1.085)" font-family='"Liberation Serif", "DejaVu Serif", serif' font-size="24.5" stroke="#000" stroke-width="0.35" xml:space="preserve">ΔF73 pH 5.5</text>
<text transform="translate(1526 245.35) scale(1 1.085)" font-family='"Liberation Serif", "DejaVu Serif", serif' font-size="24.5" stroke="#000" stroke-width="0.35" >0.91</text>
<text transform="translate(1633 245.35) scale(1 1.085)" font-family='"Liberation Serif", "DejaVu Serif", serif' font-size="24.5" text-anchor="middle" stroke="#000" stroke-width="0.35" >66</text>
<text transform="translate(1693 245.35) scale(1.03 1.085)" font-family='"Liberation Serif", "DejaVu Serif", serif' font-size="24.5" stroke="#000" stroke-width="0.35" >256 x 10<tspan font-size="16" dy="-9.5">6</tspan></text>
<text transform="translate(1882 245.35) scale(1 1.085)" font-family='"Liberation Serif", "DejaVu Serif", serif' font-size="24.5" text-anchor="middle" stroke="#000" stroke-width="0.35" >43</text>
<text transform="translate(1359.5 295) scale(1.024 1.085)" font-family='"Liberation Serif", "DejaVu Serif", serif' font-size="24.5" stroke="#000" stroke-width="0.35" xml:space="preserve">wt pH  6.5</text>
<text transform="translate(1526 295) scale(1 1.085)" font-family='"Liberation Serif", "DejaVu Serif", serif' font-size="24.5" stroke="#000" stroke-width="0.35" >1.64</text>
<text transform="translate(1693 295) scale(1.03 1.085)" font-family='"Liberation Serif", "DejaVu Serif", serif' font-size="24.5" stroke="#000" stroke-width="0.35" >884 x 10<tspan font-size="16" dy="-9.5">6</tspan></text>
<text transform="translate(1359.5 344.65) scale(1.024 1.085)" font-family='"Liberation Serif", "DejaVu Serif", serif' font-size="24.5" stroke="#000" stroke-width="0.35" xml:space="preserve">ΔF73 pH 6.5</text>
<text transform="translate(1526 344.65) scale(1 1.085)" font-family='"Liberation Serif", "DejaVu Serif", serif' font-size="24.5" stroke="#000" stroke-width="0.35" >0.77</text>
<text transform="translate(1633 344.65) scale(1 1.085)" font-family='"Liberation Serif", "DejaVu Serif", serif' font-size="24.5" text-anchor="middle" stroke="#000" stroke-width="0.35" >47</text>
<text transform="translate(1693 344.65) scale(1.03 1.085)" font-family='"Liberation Serif", "DejaVu Serif", serif' font-size="24.5" stroke="#000" stroke-width="0.35" >296 x 10<tspan font-size="16" dy="-9.5">6</tspan></text>
<text transform="translate(1882 344.65) scale(1 1.085)" font-family='"Liberation Serif", "DejaVu Serif", serif' font-size="24.5" text-anchor="middle" stroke="#000" stroke-width="0.35" >33</text>
<text transform="translate(1359.5 394.3) scale(1.024 1.085)" font-family='"Liberation Serif", "DejaVu Serif", serif' font-size="24.5" stroke="#000" stroke-width="0.35" xml:space="preserve">wt pH 7.5</text>
<text transform="translate(1526 394.3) scale(1 1.085)" font-family='"Liberation Serif", "DejaVu Serif", serif' font-size="24.5" stroke="#000" stroke-width="0.35" >1.45</text>
<text transform="translate(1693 394.3) scale(1.03 1.085)" font-family='"Liberation Serif", "DejaVu Serif", serif' font-size="24.5" stroke="#000" stroke-width="0.35" >732 x 10<tspan font-size="16" dy="-9.5">6</tspan></text>
<text transform="translate(1359.5 443.95) scale(1.024 1.085)" font-family='"Liberation Serif", "DejaVu Serif", serif' font-size="24.5" stroke="#000" stroke-width="0.35" xml:space="preserve">ΔF73 pH 7.5</text>
<text transform="translate(1526 443.95) scale(1 1.085)" font-family='"Liberation Serif", "DejaVu Serif", serif' font-size="24.5" stroke="#000" stroke-width="0.35" >1.07</text>
<text transform="translate(1633 443.95) scale(1 1.085)" font-family='"Liberation Serif", "DejaVu Serif", serif' font-size="24.5" text-anchor="middle" stroke="#000" stroke-width="0.35" >74</text>
<text transform="translate(1693 443.95) scale(1.03 1.085)" font-family='"Liberation Serif", "DejaVu Serif", serif' font-size="24.5" stroke="#000" stroke-width="0.35" >392 x 10<tspan font-size="16" dy="-9.5">6</tspan></text>
<text transform="translate(1882 443.95) scale(1 1.085)" font-family='"Liberation Serif", "DejaVu Serif", serif' font-size="24.5" text-anchor="middle" stroke="#000" stroke-width="0.35" >54</text>
</g>
</svg>
</body></html>
